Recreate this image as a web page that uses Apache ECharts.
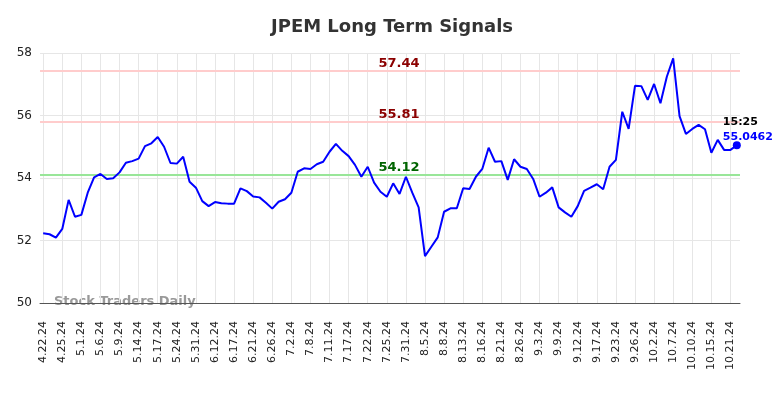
<!DOCTYPE html>
<html>
<head>
<meta charset="utf-8">
<script src="https://cdn.jsdelivr.net/npm/echarts@6/dist/echarts.min.js"></script>
<style>
  html, body { margin: 0; padding: 0; background: #fff; }
  #chart { width: 784px; height: 398px; }
</style>
</head>
<body>
<div id="chart"></div>
<script>
// dates (only every 3rd one is shown on the axis)
const dates = [
  '4.22.24', '4.23.24', '4.24.24', '4.25.24', '4.26.24', '4.30.24', '5.1.24', '5.2.24', '5.3.24', '5.6.24',
  '5.7.24', '5.8.24', '5.9.24', '5.10.24', '5.13.24', '5.14.24', '5.15.24', '5.16.24', '5.17.24', '5.20.24',
  '5.22.24', '5.24.24', '5.28.24', '5.30.24', '5.31.24', '6.5.24', '6.10.24', '6.12.24', '6.13.24', '6.14.24',
  '6.17.24', '6.18.24', '6.20.24', '6.21.24', '6.24.24', '6.25.24', '6.26.24', '6.27.24', '7.1.24', '7.2.24',
  '7.3.24', '7.5.24', '7.8.24', '7.9.24', '7.10.24', '7.11.24', '7.15.24', '7.16.24', '7.17.24', '7.18.24',
  '7.19.24', '7.22.24', '7.23.24', '7.24.24', '7.25.24', '7.29.24', '7.30.24', '7.31.24', '8.1.24', '8.2.24',
  '8.5.24', '8.6.24', '8.7.24', '8.8.24', '8.9.24', '8.12.24', '8.13.24', '8.14.24', '8.15.24', '8.16.24',
  '8.19.24', '8.20.24', '8.21.24', '8.22.24', '8.23.24', '8.26.24', '8.27.24', '8.29.24', '9.3.24', '9.4.24',
  '9.6.24', '9.9.24', '9.10.24', '9.11.24', '9.12.24', '9.13.24', '9.16.24', '9.17.24', '9.19.24', '9.20.24',
  '9.23.24', '9.24.24', '9.25.24', '9.26.24', '9.27.24', '10.1.24', '10.2.24', '10.3.24', '10.4.24', '10.7.24',
  '10.8.24', '10.9.24', '10.10.24', '10.11.24', '10.14.24', '10.15.24', '10.16.24', '10.18.24', '10.21.24', '10.22.24'
];

// closing prices
const prices = [
  52.23, 52.20, 52.09, 52.37, 53.30, 52.76, 52.82, 53.53, 54.02, 54.13,
  53.97, 53.99, 54.18, 54.49, 54.54, 54.62, 55.02, 55.11, 55.31, 55.00,
  54.48, 54.46, 54.68, 53.88, 53.69, 53.26, 53.10, 53.23, 53.19, 53.18,
  53.18, 53.67, 53.58, 53.41, 53.38, 53.21, 53.02, 53.24, 53.32, 53.53,
  54.20, 54.31, 54.29, 54.44, 54.52, 54.84, 55.09, 54.87, 54.70, 54.42,
  54.04, 54.36, 53.85, 53.56, 53.40, 53.83, 53.49, 54.04, 53.53, 53.06,
  51.50, 51.80, 52.10, 52.92, 53.03, 53.03, 53.67, 53.65, 54.04, 54.29,
  54.97, 54.52, 54.54, 53.94, 54.60, 54.36, 54.29, 53.97, 53.40, 53.53,
  53.70, 53.06, 52.90, 52.76, 53.10, 53.59, 53.69, 53.80, 53.64, 54.36,
  54.58, 56.12, 55.57, 56.95, 56.94, 56.50, 57.01, 56.39, 57.24, 57.83,
  55.98, 55.41, 55.57, 55.70, 55.56, 54.81, 55.22, 54.90, 54.90, 55.0462
];

// signal levels
const signalValues = [57.44, 55.81, 54.12];
const signalColors = ['#ffcccc', '#ffcccc', '#99e699'];
const signalTextColors = ['#8b0000', '#8b0000', '#006400'];

const lastTime = '15:25';
const yTicks = [50, 52, 54, 56, 58];

const chart = echarts.init(document.getElementById('chart'));

const option = {
  backgroundColor: '#fff',
  textStyle: { fontFamily: 'DejaVu Sans' },
  animation: false,
  title: {
    text: 'JPEM Long Term Signals',
    left: 'center',
    top: 13,
    textStyle: { color: '#333', fontSize: 18, fontWeight: 'bold', fontFamily: 'DejaVu Sans' }
  },
  grid: { left: 40, right: 44, top: 53, bottom: 95, containLabel: false },
  xAxis: {
    type: 'category',
    data: dates,
    boundaryGap: true,
    axisLine: { lineStyle: { color: '#555', width: 1 } },
    axisTick: { show: false },
    axisLabel: {
      interval: 2,
      rotate: 90,
      margin: 18,
      fontSize: 11,
      color: '#222'
    },
    splitLine: {
      show: true,
      interval: 2,
      alignWithLabel: true,
      lineStyle: { color: '#e6e6e6', width: 1 }
    }
  },
  yAxis: {
    type: 'value',
    min: yTicks[0],
    max: yTicks[yTicks.length - 1],
    interval: 2,
    axisLine: { show: false },
    axisTick: { show: false },
    axisLabel: { fontSize: 12, color: '#222', margin: 8 },
    splitLine: { lineStyle: { color: '#e6e6e6', width: 1 } }
  },
  graphic: [{
    type: 'text',
    left: 54,
    top: 295,
    style: {
      text: 'Stock Traders Daily',
      fill: '#999',
      font: 'bold 13px "DejaVu Sans"'
    }
  }],
  series: [{
    type: 'line',
    data: prices,
    showSymbol: false,
    lineStyle: { color: '#0000ff', width: 2 },
    itemStyle: { color: '#0000ff' },
    z: 3,
    markLine: {
      silent: true,
      symbol: 'none',
      z: 1,
      data: signalValues.map((v, i) => ({
        yAxis: v,
        lineStyle: { color: signalColors[i], width: 2, type: 'solid' },
        label: {
          show: true,
          position: 'insideMiddleTop',
          offset: [9, 5],
          formatter: v.toFixed(2),
          color: signalTextColors[i],
          fontSize: 13,
          fontWeight: 'bold'
        }
      }))
    },
    markPoint: {
      silent: true,
      data: [{
        coord: [dates.length - 1, prices[prices.length - 1]],
        symbol: 'circle',
        symbolSize: 8,
        itemStyle: { color: '#0000ff' },
        label: {
          show: true,
          position: [-10, -27],
          align: 'left',
          verticalAlign: 'top',
          formatter: '{t|' + lastTime + '}\n{v|' + prices[prices.length - 1] + '}',
          rich: {
            t: { color: '#000', fontSize: 11, fontWeight: 'bold', lineHeight: 15 },
            v: { color: '#0000ff', fontSize: 11, fontWeight: 'bold', lineHeight: 15 }
          }
        }
      }]
    }
  }]
};

chart.setOption(option);
</script>
</body>
</html>
